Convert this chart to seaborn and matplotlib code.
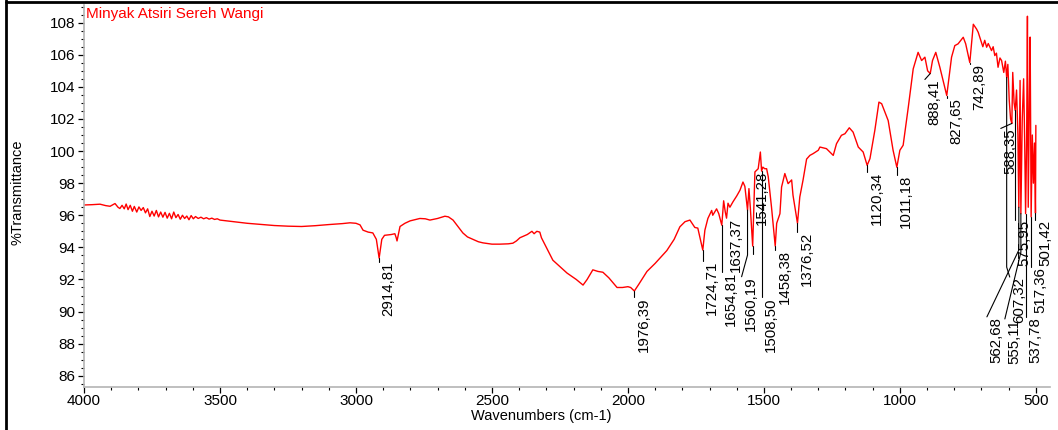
import numpy as np
import pandas as pd
import matplotlib
matplotlib.use("Agg")
import matplotlib.pyplot as plt
import seaborn as sns
from matplotlib.ticker import MultipleLocator
from matplotlib.lines import Line2D
from matplotlib.transforms import offset_copy

# ---------------- data ----------------
title = "Minyak Atsiri Sereh Wangi"
x_label = "Wavenumbers (cm-1)"
y_label = "%Transmittance"

base_wn = [4000, 3970, 3941, 3920, 3904, 3886, 3875, 3868,
           3860, 3852, 3845, 3838, 3830, 3822, 3815, 3806, 3798, 3790, 3782, 3774,
           3766, 3758, 3750, 3742, 3734, 3726, 3718, 3710, 3702, 3694, 3686, 3678,
           3670, 3662, 3654, 3646, 3638, 3630, 3622, 3614, 3606, 3598, 3590, 3580,
           3570, 3560, 3550, 3540, 3530, 3520, 3510, 3500,
           3450, 3400, 3350, 3300, 3250, 3200, 3150, 3100, 3050, 3022, 3000, 2985,
           2974, 2955, 2938, 2925, 2905, 2895, 2870, 2857, 2852, 2849, 2843, 2838,
           2820, 2801, 2765, 2745, 2728, 2700, 2673, 2660, 2643, 2625, 2607, 2590,
           2570, 2550, 2533, 2500, 2471, 2440, 2423, 2410, 2397, 2370, 2353, 2345,
           2335, 2324, 2318, 2300, 2276, 2250, 2224, 2190, 2165, 2150, 2129, 2110,
           2092, 2070, 2040, 2020, 2000, 1990, 1960, 1930, 1900, 1857, 1830, 1809,
           1790, 1772, 1754, 1743, 1735, 1717, 1706, 1692, 1688, 1674, 1666, 1648,
           1642, 1632, 1625, 1614, 1600, 1588, 1577, 1570, 1555, 1550, 1533, 1521,
           1513, 1504, 1497, 1490, 1484, 1472, 1453, 1441, 1435, 1423, 1411, 1398,
           1393, 1368, 1356, 1343, 1331, 1319, 1300, 1294, 1270, 1245, 1233, 1215,
           1202, 1186, 1172, 1153, 1135, 1110, 1092, 1077, 1067, 1055, 1043, 1025,
           1000, 988, 969, 951, 933, 920, 908, 898, 880, 868, 853, 810, 798, 786,
           767, 758, 730, 718, 712, 700, 695, 688, 681, 675, 663, 657, 651, 645,
           639, 632, 626, 618, 612, 603, 598, 593, 585, 580, 571, 566, 558, 550,
           545, 541, 534, 531, 528, 524, 521, 513, 509, 505, 500]
base_T = [96.64, 96.66, 96.69, 96.60, 96.56, 96.73, 96.50, 96.42,
          96.62, 96.40, 96.70, 96.35, 96.62, 96.25, 96.55, 96.20, 96.52, 96.30, 96.48, 96.15,
          96.40, 95.92, 96.25, 95.95, 96.30, 95.90, 96.20, 95.88, 96.18, 95.82, 96.12, 95.78,
          96.20, 95.85, 96.05, 95.75, 96.00, 95.80, 95.95, 95.72, 95.98, 95.78, 95.92, 95.80,
          95.88, 95.78, 95.85, 95.76, 95.82, 95.74, 95.78, 95.70,
          95.60, 95.50, 95.43, 95.36, 95.32, 95.30, 95.35, 95.42, 95.48, 95.53, 95.50, 95.40,
          95.07, 94.95, 94.90, 94.50, 94.50, 94.75, 94.80, 94.85, 94.60, 94.40, 94.90, 95.30,
          95.50, 95.65, 95.80, 95.78, 95.70, 95.80, 95.94, 95.90, 95.70, 95.30, 94.90, 94.65,
          94.50, 94.35, 94.28, 94.20, 94.20, 94.22, 94.26, 94.40, 94.60, 94.80, 95.00, 94.85,
          95.00, 94.95, 94.60, 94.00, 93.20, 92.80, 92.40, 92.00, 91.65, 92.00, 92.60, 92.50,
          92.45, 92.10, 91.50, 91.50, 91.55, 91.50, 91.70, 92.50, 93.00, 93.80, 94.50, 95.28,
          95.60, 95.70, 95.24, 95.20, 94.60, 95.07, 95.80, 96.30, 96.00, 96.40, 96.10, 96.90,
          96.20, 96.75, 96.50, 96.83, 97.20, 97.56, 98.07, 97.80, 97.66, 96.50, 98.70, 98.90,
          99.94, 99.00, 98.90, 98.90, 98.40, 96.50, 95.50, 96.10, 97.76, 98.60, 97.97, 98.20,
          97.25, 97.14, 98.20, 99.50, 99.73, 99.84, 100.05, 100.25, 100.15, 99.73, 100.46, 100.98,
          101.08, 101.45, 101.18, 100.25, 99.94, 99.53, 101.30, 103.05, 102.95, 102.42, 101.90, 100.05,
          100.05, 100.36, 102.74, 105.12, 106.15, 105.64, 105.85, 105.00, 105.64, 106.15, 105.22, 105.85, 106.57, 106.68,
          107.09, 106.68, 107.90, 107.60, 107.40, 106.78, 106.50, 106.90, 106.47, 106.70, 106.26, 106.50, 105.95, 106.10,
          105.22, 105.80, 105.64, 104.90, 105.60, 105.40, 103.20, 102.00, 104.90, 103.00, 103.80, 101.00, 104.40, 102.00,
          104.50, 100.50, 100.50, 108.40, 96.50, 103.00, 107.10, 101.00, 98.00, 100.50, 101.60]

peak_wn = [2914.81, 1976.39, 1724.71, 1654.81, 1637.37, 1560.19, 1541.28, 1508.50,
           1458.38, 1376.52, 1120.34, 1011.18, 888.41, 827.65, 742.89, 607.32,
           588.35, 575.95, 562.68, 555.11, 537.78, 517.36, 501.42]
peak_T = [93.33, 91.28, 93.83, 95.38, 95.82, 96.32, 94.08, 98.75,
          94.08, 95.50, 99.11, 98.99, 104.83, 103.46, 105.51, 104.58,
          101.72, 102.53, 96.50, 96.10, 96.10, 95.90, 96.13]

x_ticks = [4000, 3500, 3000, 2500, 2000, 1500, 1000, 500]
y_ticks = [86, 88, 90, 92, 94, 96, 98, 100, 102, 104, 106, 108]

# ---------------- label layout (text anchor and leader bends) ----------------
# per label: (text_wn, text_T, extra leader points after the peak)
label_layout = [
    (2914.81, 93.10, [(2914.81, 93.10)]),
    (1976.39, 90.90, [(1976.39, 90.90)]),
    (1724.71, 93.15, [(1724.71, 93.15)]),
    (1654.81, 92.46, [(1654.81, 92.46)]),
    (1637.37, 95.82, []),
    (1582.0, 92.17, [(1560.19, 93.52), (1582.0, 92.17)]),
    (1544.0, 98.80, [(1541.28, 93.60)]),
    (1508.50, 90.90, [(1508.50, 90.90)]),
    (1458.38, 93.83, [(1458.38, 93.83)]),
    (1376.52, 94.95, [(1376.52, 94.95)]),
    (1120.34, 98.68, [(1120.34, 98.68)]),
    (1011.18, 98.50, [(1011.18, 98.50)]),
    (908.0, 104.46, [(908.0, 104.46)]),
    (827.65, 103.28, [(827.65, 103.28)]),
    (742.89, 105.45, [(742.89, 105.45)]),
    (596.0, 92.15, [(607.32, 92.77), (596.0, 92.15)]),
    (629.0, 101.41, [(629.0, 101.41)]),
    (575.95, 95.69, [(575.95, 95.69)]),
    (680.0, 89.67, [(562.68, 93.83), (680.0, 89.67)]),
    (614.0, 89.54, [(555.11, 93.70), (614.0, 89.54)]),
    (537.78, 89.67, [(537.78, 89.67)]),
    (517.36, 92.77, [(517.36, 92.77)]),
    (501.42, 95.69, [(501.42, 95.69)]),
]

# ---------------- build table ----------------
df = pd.DataFrame({"wn": base_wn + peak_wn, "T": base_T + peak_T})
df = df.sort_values("wn", ascending=False).reset_index(drop=True)

sns.set_theme(style="white")
plt.rcParams["font.family"] = ["Liberation Sans", "DejaVu Sans"]

fig = plt.figure(figsize=(10.58, 4.30), dpi=100)
ax = fig.add_axes([84 / 1058, 43 / 430, 966 / 1058, 382 / 430])

sns.lineplot(data=df, x="wn", y="T", ax=ax, color="#ff0000", linewidth=1.0,
             sort=False, estimator=None)

ax.set_xlim(4000, 448)
ax.set_ylim(85.3, 109.1)
ax.set_xticks(x_ticks)
ax.set_xticklabels([str(v) for v in x_ticks])
ax.set_yticks(y_ticks)
ax.set_yticklabels([str(v) for v in y_ticks])
ax.xaxis.set_minor_locator(MultipleLocator(100))
ax.yaxis.set_minor_locator(MultipleLocator(0.5))
ax.tick_params(axis="both", which="major", direction="out", length=4, width=0.9,
               color="black", labelsize=11, labelcolor="black", pad=2.5)
ax.tick_params(axis="x", which="major", pad=1.0)
ax.tick_params(axis="both", which="minor", direction="out", length=2, width=0.8,
               color="black")
ax.tick_params(axis="x", which="both", bottom=True)
ax.tick_params(axis="y", which="both", left=True)

for side in ["top", "right"]:
    ax.spines[side].set_visible(False)
for side in ["left", "bottom"]:
    ax.spines[side].set_color("#b4b4b4")
    ax.spines[side].set_linewidth(1.2)

ax.set_xlabel(x_label, fontsize=10.5, color="black")
ax.set_ylabel(y_label, fontsize=10.5, color="black")
ax.xaxis.set_label_coords((541 - 84) / 966, (387 - 409) / 382)
ax.yaxis.set_label_coords((25 - 84) / 966, (387 - 192) / 382)

ax.text(0.002, 0.996, title, transform=ax.transAxes, ha="left", va="top",
        color="#ff0000", fontsize=11)

txt_tr = offset_copy(ax.transData, fig=fig, x=2.5, y=0, units="dots")
for pw, pt, (tw, tt, pts) in zip(peak_wn, peak_T, label_layout):
    xs = [pw] + [p[0] for p in pts]
    ys = [pt] + [p[1] for p in pts]
    if len(xs) > 1:
        ax.plot(xs, ys, color="black", linewidth=0.8)
    lab = f"{pw:.2f}".replace(".", ",")
    ax.text(tw, tt, lab, transform=txt_tr, rotation=90, ha="left", va="top",
            fontsize=10.8, color="black")

# outer frame lines (left and top)
fig.add_artist(Line2D([6 / 1058, 6 / 1058], [0, 1], transform=fig.transFigure,
                      color="black", linewidth=2))
fig.add_artist(Line2D([6 / 1058, 1], [1 - 2 / 430, 1 - 2 / 430],
                      transform=fig.transFigure, color="black", linewidth=2))

fig.savefig("out.png", dpi=100)
